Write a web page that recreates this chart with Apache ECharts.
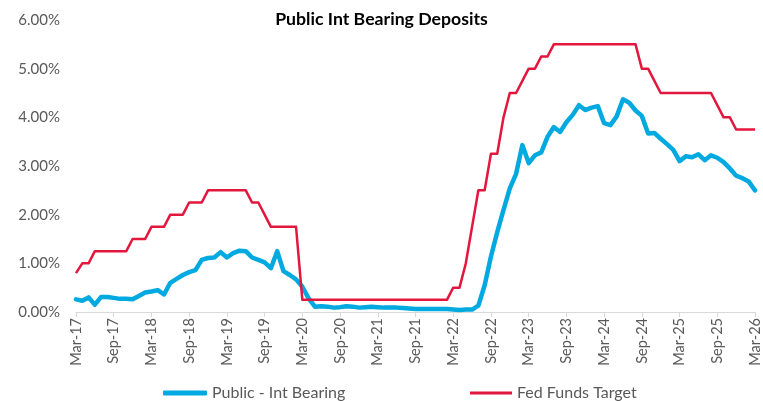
<!DOCTYPE html>
<html>
<head>
<meta charset="utf-8">
<script src="https://cdn.jsdelivr.net/npm/echarts@6/dist/echarts.min.js"></script>
<style>
  html, body { margin: 0; padding: 0; background: #fff; }
  #chart { width: 763px; height: 401px; }
</style>
</head>
<body>
<div id="chart"></div>
<script>
// monthly, Mar-17 .. Mar-26
var monthNames = ["Jan", "Feb", "Mar", "Apr", "May", "Jun", "Jul", "Aug", "Sep", "Oct", "Nov", "Dec"];
var months = [];
for (var k = 0; k < 109; k++) {
  var m = (2 + k) % 12;
  var y = 17 + Math.floor((2 + k) / 12);
  months.push(monthNames[m] + "-" + y);
}

var publicIntBearing = [
  0.26, 0.23, 0.30, 0.15, 0.31, 0.31, 0.29, 0.27, 0.27, 0.26,
  0.33, 0.40, 0.42, 0.45, 0.36, 0.60, 0.68, 0.76, 0.82, 0.86,
  1.07, 1.11, 1.12, 1.23, 1.12, 1.21, 1.26, 1.25, 1.12, 1.07,
  1.02, 0.90, 1.25, 0.84, 0.76, 0.67, 0.52, 0.28, 0.11, 0.12,
  0.11, 0.09, 0.10, 0.12, 0.11, 0.09, 0.10, 0.11, 0.10, 0.09,
  0.09, 0.09, 0.08, 0.07, 0.06, 0.06, 0.06, 0.06, 0.06, 0.06,
  0.05, 0.04, 0.05, 0.05, 0.13, 0.55, 1.14, 1.64, 2.10, 2.54,
  2.84, 3.43, 3.06, 3.22, 3.28, 3.60, 3.80, 3.70, 3.90, 4.05,
  4.25, 4.15, 4.20, 4.23, 3.88, 3.84, 4.02, 4.37, 4.30, 4.14,
  4.03, 3.67, 3.68, 3.56, 3.45, 3.33, 3.10, 3.20, 3.18, 3.24,
  3.12, 3.22, 3.17, 3.08, 2.95, 2.80, 2.75, 2.68, 2.50
];

var fedFundsTarget = [
  0.80, 1.00, 1.00, 1.25, 1.25, 1.25, 1.25, 1.25, 1.25, 1.50,
  1.50, 1.50, 1.75, 1.75, 1.75, 2.00, 2.00, 2.00, 2.25, 2.25,
  2.25, 2.50, 2.50, 2.50, 2.50, 2.50, 2.50, 2.50, 2.25, 2.25,
  2.00, 1.75, 1.75, 1.75, 1.75, 1.75, 0.25, 0.25, 0.25, 0.25,
  0.25, 0.25, 0.25, 0.25, 0.25, 0.25, 0.25, 0.25, 0.25, 0.25,
  0.25, 0.25, 0.25, 0.25, 0.25, 0.25, 0.25, 0.25, 0.25, 0.25,
  0.50, 0.50, 1.00, 1.75, 2.50, 2.50, 3.25, 3.25, 4.00, 4.50,
  4.50, 4.75, 5.00, 5.00, 5.25, 5.25, 5.50, 5.50, 5.50, 5.50,
  5.50, 5.50, 5.50, 5.50, 5.50, 5.50, 5.50, 5.50, 5.50, 5.50,
  5.00, 5.00, 4.75, 4.50, 4.50, 4.50, 4.50, 4.50, 4.50, 4.50,
  4.50, 4.50, 4.25, 4.00, 4.00, 3.75, 3.75, 3.75, 3.75
];

var yTicks = [0, 1, 2, 3, 4, 5, 6];

var blue = "#00A9E0";
var red = "#E3173D";
var grey = "#595959";
var font = "Lato";

var myChart = echarts.init(document.getElementById("chart"));
var option;

option = {
  animation: false,
  title: {
    text: "Public Int Bearing Deposits",
    left: "center",
    top: 5,
    textStyle: { fontFamily: font, fontSize: 17.7, fontWeight: "bold", color: "#000" }
  },
  legend: [
    {
      data: ["Public - Int Bearing"],
      left: 158,
      top: 380,
      icon: "roundRect",
      itemWidth: 44,
      itemHeight: 5,
      itemGap: 4,
      textStyle: { fontFamily: font, fontSize: 16, color: grey }
    },
    {
      data: ["Fed Funds Target"],
      left: 465,
      top: 380,
      icon: "rect",
      itemWidth: 42,
      itemHeight: 3,
      textStyle: { fontFamily: font, fontSize: 16, color: grey }
    }
  ],
  grid: {
    left: 76,
    right: 8,
    top: 20,
    bottom: 89,
    containLabel: false
  },
  xAxis: {
    type: "category",
    boundaryGap: false,
    data: months,
    axisLine: { lineStyle: { color: "#D9D9D9", width: 1 } },
    axisTick: { interval: 5, length: 5, lineStyle: { color: "#D9D9D9" } },
    axisLabel: {
      interval: 5,
      rotate: 90,
      margin: 6,
      fontFamily: font,
      fontSize: 14.5,
      color: grey
    },
    splitLine: { show: false }
  },
  yAxis: {
    type: "value",
    min: yTicks[0],
    max: yTicks[yTicks.length - 1],
    interval: 1,
    axisLine: { show: false },
    axisTick: { show: false },
    splitLine: { show: false },
    axisLabel: {
      margin: 16,
      fontFamily: font,
      fontSize: 15,
      color: grey,
      formatter: function (v) {
        return v.toFixed(2) + "%";
      }
    }
  },
  series: [
    {
      name: "Public - Int Bearing",
      type: "line",
      data: publicIntBearing,
      showSymbol: false,
      color: blue,
      lineStyle: { width: 4.5, color: blue, cap: "round", join: "round" },
      z: 2
    },
    {
      name: "Fed Funds Target",
      type: "line",
      data: fedFundsTarget,
      showSymbol: false,
      color: red,
      lineStyle: { width: 2.5, color: red, join: "round" },
      z: 3
    }
  ]
};

option && myChart.setOption(option);
</script>
</body>
</html>
